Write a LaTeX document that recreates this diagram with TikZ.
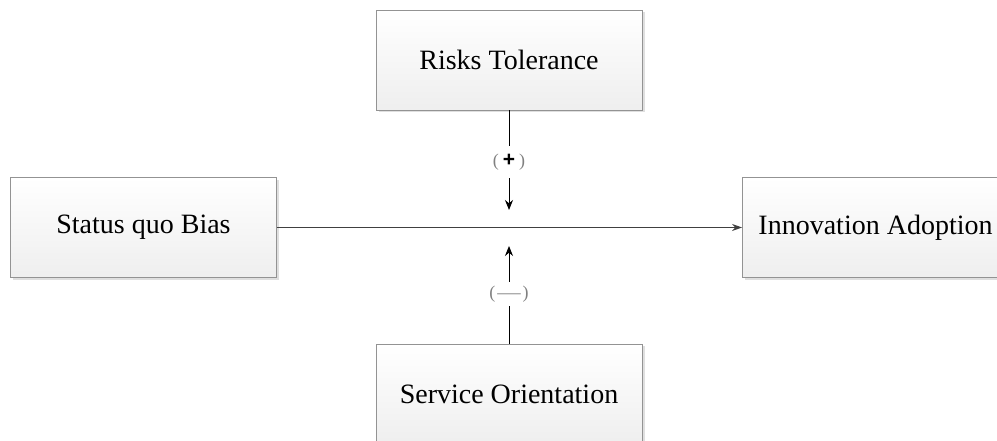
\documentclass[tikz,border=0pt]{standalone}
\usepackage{fontspec}
\setmainfont{Liberation Serif}
\newfontfamily\signfont{Liberation Sans}
\usetikzlibrary{positioning, arrows.meta, shadows}
\tikzset{
  factor/.style={
	draw=gray!85, % grey outline of the boxes
	line width=0.9pt,
	top color=white, bottom color=gray!13, % light shading towards the bottom
	drop shadow={shadow xshift=2.5pt, shadow yshift=-2.5pt, fill=gray!50, opacity=0.5}, % soft shadow
	minimum width=266pt, minimum height=100pt, % all boxes share one size
	inner sep=0pt,
	font=\fontsize{28}{32}\selectfont,
  },
  sign/.style={font=\fontsize{18}{20}\selectfont, inner xsep=1pt}, % the (+) and (-) labels
  link/.style={-{Stealth[length=10pt,width=8pt]}, line width=1pt}, % moderating arrows
  path/.style={-{Stealth[length=10pt,width=7pt]}, draw=black!75, line width=0.9pt}, % main effect
}

\begin{document}
\begin{tikzpicture}[x=1pt, y=1pt]
	  \useasboundingbox (0,0) rectangle (997,441);
	  \clip (0,0) rectangle (997,441);
	  \node[factor] (rt) at (509,381) {Risks Tolerance};
	  \node[factor] (sqb) at (143.5,213.5) {Status quo Bias};
	  \node[factor] (ia) at (875.5,213.5) {Innovation Adoption};
	  \node[factor] (so) at (509,47) {Service Orientation};
	  \node[sign, inner ysep=8pt] (pos) at (509,279) {{\color{gray}(}\hspace{4pt}{\signfont\bfseries\fontsize{21}{22}\selectfont +}\hspace{4pt}{\color{gray})}};
	  \node[sign, inner ysep=4pt] (neg) at (509,147) {{\color{gray}(\hspace{2pt}\scalebox{1.3}[1]{—}\hspace{2pt})}};
	  \coordinate (tipdown) at (509,231);
	  \coordinate (tipup) at (509,195);
	  \draw[path] (sqb) -- (ia);
	  \draw[line width=1pt] (rt) -- (pos)
		  (so) -- (neg);
	  \draw[link] (pos) -- (tipdown);
	  \draw[link] (neg) -- (tipup);
	  \end{tikzpicture}
\end{document}
